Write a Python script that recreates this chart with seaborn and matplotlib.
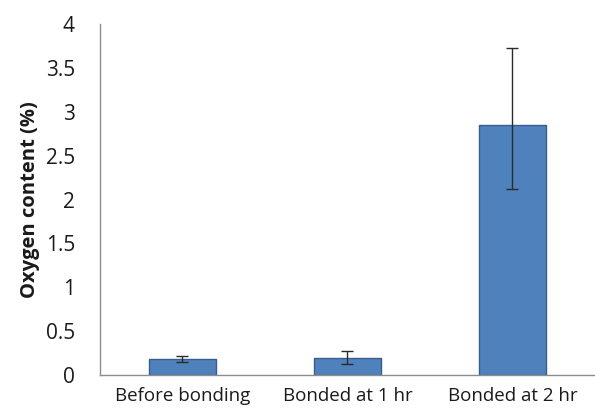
import numpy as np
import pandas as pd
import seaborn as sns
import matplotlib.pyplot as plt
from matplotlib.ticker import FixedLocator

# values
stages = ['Before bonding', 'Bonded at 1 hr', 'Bonded at 2 hr']
oxygen = [0.18, 0.19, 2.85]
err_low = [0.03, 0.07, 0.73]
err_high = [0.03, 0.08, 0.88]
y_ticks = [0, 0.5, 1, 1.5, 2, 2.5, 3, 3.5, 4]
y_tick_labels = ['0', '0.5', '1', '1.5', '2', '2.5', '3', '3.5', '4']

df = pd.DataFrame({'stage': stages, 'oxygen': oxygen})

sns.set_style('white')
plt.rcParams['font.family'] = ['Open Sans', 'DejaVu Sans']

fig = plt.figure(figsize=(5.95, 4.17), dpi=100)
ax = fig.add_axes([0.168, 0.101, 0.832, 0.841])

sns.barplot(
    data=df,
    x='stage',
    y='oxygen',
    order=stages,
    color='#4F81BD',
    edgecolor='#385D8A',
    linewidth=1.0,
    width=0.41,
    saturation=1,
    errorbar=None,
    ax=ax,
)

# asymmetric error bars
ax.errorbar(
    np.arange(len(stages)), oxygen,
    yerr=[err_low, err_high],
    fmt='none',
    ecolor='#2b2b2b',
    elinewidth=1.0,
    capsize=4.5,
    capthick=1.0,
    zorder=5,
)

ax.set_xlim(-0.5, 2.5)
ax.set_ylim(0, 4)
ax.set_yticks(y_ticks)
ax.set_yticklabels(y_tick_labels)

# category labels in the middle, ticks at the boundaries
ax.xaxis.set_major_locator(FixedLocator([-0.5, 0.5, 1.5, 2.5]))
ax.set_xticklabels([])
ax.xaxis.set_minor_locator(FixedLocator([0, 1, 2]))
ax.set_xticklabels(stages, minor=True)
ax.tick_params(axis='x', which='major', length=7, width=1, color='#8c8c8c', direction='out')
ax.tick_params(axis='x', which='minor', length=0, labelsize=13.5, pad=9, labelcolor='#1a1a1a')
ax.tick_params(axis='y', length=6, width=1, color='#8c8c8c', direction='out',
               labelsize=15, pad=12, labelcolor='#1a1a1a')

for side in ['top', 'right']:
    ax.spines[side].set_visible(False)
for side in ['left', 'bottom']:
    ax.spines[side].set_color('#8c8c8c')
    ax.spines[side].set_linewidth(1.0)

ax.set_xlabel('')
ax.set_ylabel('Oxygen content (%)', fontsize=14.5, fontweight='bold', labelpad=4, color='#1a1a1a')

fig.savefig('out.png', dpi=100)
